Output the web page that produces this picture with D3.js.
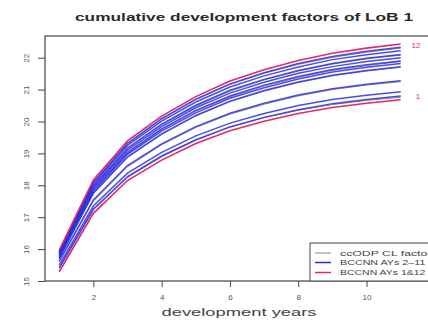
<!DOCTYPE html>
<html><head><meta charset="utf-8">
<script src="https://cdn.jsdelivr.net/npm/d3@7"></script>
<style>body{margin:0;background:#fff}svg{display:block}</style>
</head><body>
<svg id="c" width="428" height="321"></svg>
<script>
const devYears = [1,2,3,4,5,6,7,8,9,10,11];
const xTicks = [2,4,6,8,10];
const yTicks = [15,16,17,18,19,20,21,22];
const titleText = "cumulative development factors of LoB 1";
const xTitle = "development years";
const legendLabels = ["ccODP CL factors","BCCNN AYs 2\u201311","BCCNN AYs 1&12"];

// BCCNN curves, AY1 .. AY12
const ay1  = [15.29,17.12,18.15,18.79,19.31,19.71,20.01,20.25,20.44,20.57,20.68];
const ay2  = [15.40,17.24,18.26,18.91,19.42,19.83,20.13,20.37,20.56,20.69,20.80];
const ay3  = [15.50,17.35,18.38,19.03,19.55,19.95,20.25,20.50,20.69,20.82,20.93];
const ay4  = [15.62,17.54,18.62,19.30,19.84,20.26,20.57,20.83,21.03,21.17,21.28];
const ay5  = [15.70,17.75,18.89,19.61,20.19,20.64,20.97,21.24,21.45,21.60,21.72];
const ay6  = [15.75,17.81,18.97,19.70,20.27,20.73,21.06,21.33,21.55,21.70,21.82];
const ay7  = [15.80,17.87,19.03,19.77,20.35,20.80,21.14,21.41,21.63,21.78,21.90];
const ay8  = [15.83,17.93,19.10,19.84,20.43,20.89,21.23,21.51,21.72,21.88,22.00];
const ay9  = [15.86,17.98,19.17,19.92,20.51,20.98,21.32,21.60,21.82,21.98,22.10];
const ay10 = [15.89,18.04,19.25,20.01,20.61,21.08,21.43,21.71,21.94,22.09,22.22];
const ay11 = [15.92,18.10,19.32,20.09,20.70,21.18,21.53,21.82,22.04,22.20,22.33];
const ay12 = [15.97,18.17,19.39,20.17,20.78,21.27,21.62,21.91,22.14,22.30,22.43];

// ccODP CL factor curves
const ccA = [15.42,17.27,18.29,18.93,19.43,19.83,20.12,20.35,20.53,20.66,20.76];
const ccB = [15.60,17.50,18.58,19.27,19.81,20.23,20.54,20.80,21.00,21.14,21.25];
const ccC = [15.72,17.74,18.87,19.59,20.17,20.62,20.95,21.22,21.43,21.58,21.70];
const ccD = [15.79,17.84,19.00,19.74,20.32,20.77,21.11,21.38,21.60,21.75,21.88];
const ccE = [15.85,17.96,19.14,19.89,20.48,20.95,21.30,21.58,21.80,21.96,22.08];
const ccF = [15.93,18.08,19.30,20.07,20.68,21.16,21.51,21.79,22.01,22.17,22.30];

const blueSeries = [ay2,ay3,ay4,ay5,ay6,ay7,ay8,ay9,ay10,ay11];
const redSeries = [ay1,ay12];
const graySeries = [ccA,ccB,ccC,ccD,ccE,ccF];

const BLUE = "#2b2be6", RED = "#e8285a", GRAY = "#8a8a8a";
const svg = d3.select("#c");
const font = "Liberation Sans, Arial, Helvetica, sans-serif";

const box = {l:45, t:36, r:435, b:281};
const x = d3.scaleLinear().domain([1,11]).range([59.2,400.7]);
const y = d3.scaleLinear().domain([15,22]).range([281,57.7]);

const line = d3.line().x((d,i)=>x(devYears[i])).y(d=>y(d));

svg.append("g").selectAll("path").data(graySeries).join("path")
  .attr("d", line).attr("fill","none").attr("stroke",GRAY).attr("stroke-width",1);
svg.append("g").selectAll("path").data(blueSeries).join("path")
  .attr("d", line).attr("fill","none").attr("stroke",BLUE).attr("stroke-width",1.5).attr("stroke-opacity",0.85);
svg.append("g").selectAll("path").data(redSeries).join("path")
  .attr("d", line).attr("fill","none").attr("stroke",RED).attr("stroke-width",1.6);

// plot box
svg.append("rect").attr("x",box.l).attr("y",box.t).attr("width",box.r-box.l).attr("height",box.b-box.t)
  .attr("fill","none").attr("stroke","#444").attr("stroke-width",1.2);

// x axis
const xa = svg.append("g").attr("transform",`translate(0,${box.b})`)
  .call(d3.axisBottom(x).tickValues(xTicks).tickSize(6).tickFormat(d3.format("d")));
xa.select(".domain").remove();
xa.selectAll("line").attr("stroke","#444");
xa.selectAll("text").attr("font-family",font).attr("font-size",8).attr("fill","#555").attr("dy","1.2em");

// y axis
const ya = svg.append("g").attr("transform",`translate(${box.l},0)`)
  .call(d3.axisLeft(y).tickValues(yTicks).tickSize(7).tickFormat(d3.format("d")));
ya.select(".domain").remove();
ya.selectAll("line").attr("stroke","#444");
ya.selectAll("text").attr("font-family",font).attr("font-size",8).attr("fill","#555")
  .attr("x",0).attr("y",0).attr("dy","0.35em").attr("text-anchor","middle")
  .attr("transform","translate(-19,0) rotate(-90)");

// titles
svg.append("text").attr("x",244).attr("y",21).attr("text-anchor","middle")
  .attr("font-family",font).attr("font-weight","bold").attr("font-size",11.5).attr("fill","#2a2a2a")
  .attr("textLength",338).attr("lengthAdjust","spacingAndGlyphs").text(titleText);
svg.append("text").attr("x",239).attr("y",316).attr("text-anchor","middle")
  .attr("font-family",font).attr("font-size",11).attr("fill","#444")
  .attr("textLength",155).attr("lengthAdjust","spacingAndGlyphs").text(xTitle);

// AY labels
svg.append("text").attr("x",416).attr("y",48).attr("text-anchor","middle")
  .attr("font-family",font).attr("font-size",8).attr("fill",RED).text("12");
svg.append("text").attr("x",418).attr("y",99).attr("text-anchor","middle")
  .attr("font-family",font).attr("font-size",8).attr("fill",RED).text("1");

// legend
const lg = svg.append("g");
lg.append("rect").attr("x",310).attr("y",243).attr("width",130).attr("height",38)
  .attr("fill","#fff").attr("stroke","#444").attr("stroke-width",1);
const legendColors = [GRAY, BLUE, RED];
const rows = [253, 262.5, 272.5];
legendLabels.forEach((t,i)=>{
  lg.append("line").attr("x1",315).attr("x2",331).attr("y1",rows[i]).attr("y2",rows[i])
    .attr("stroke",legendColors[i]).attr("stroke-width",i===0?1:1.5);
  lg.append("text").attr("x",340).attr("y",rows[i]+2.7).attr("font-family",font)
    .attr("font-size",7.5).attr("fill","#444").attr("textLength",t.length*6.1).attr("lengthAdjust","spacingAndGlyphs").text(t);
});
</script>
</body></html>
